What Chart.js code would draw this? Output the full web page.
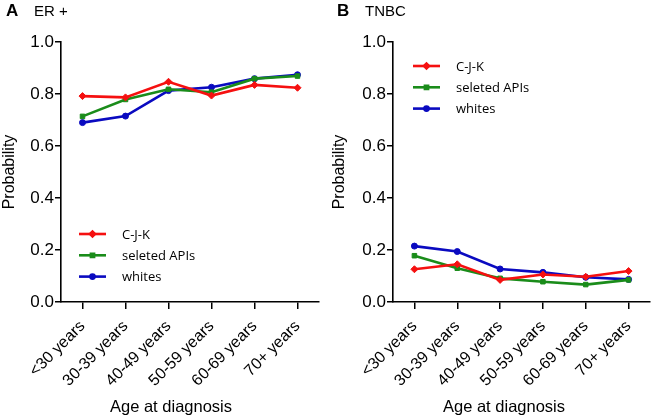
<!DOCTYPE html>
<html><head><meta charset="utf-8">
<script src="https://cdn.jsdelivr.net/npm/chart.js@4/dist/chart.umd.min.js"></script>
<style>
html,body{margin:0;padding:0;background:#fff;width:655px;height:419px;overflow:hidden;font-family:"Liberation Sans",Arial,sans-serif;}
.panel{position:absolute;top:0;height:419px;}
.lbl{position:absolute;color:#000;white-space:nowrap;}
</style></head>
<body>
<div class="panel" style="left:0;width:330px"><canvas id="cA" width="330" height="419"></canvas></div>
<div class="panel" style="left:330px;width:325px"><canvas id="cB" width="325" height="419"></canvas></div>
<div class="lbl" style="left:6px;top:1px;font-size:17px;font-weight:bold">A</div>
<div class="lbl" style="left:34px;top:2px;font-size:15px">ER +</div>
<div class="lbl" style="left:337px;top:1px;font-size:17px;font-weight:bold">B</div>
<div class="lbl" style="left:365px;top:2px;font-size:15px">TNBC</div>
<div class="lbl" style="left:110px;top:397px;font-size:16.5px">Age at diagnosis</div>
<div class="lbl" style="left:443px;top:397px;font-size:16.5px">Age at diagnosis</div>
<script>
const categories = ['<30 years','30-39 years','40-49 years','50-59 years','60-69 years','70+ years'];
const seriesNames = ['C-J-K','seleted APIs','whites'];
const erCJK   = [0.792,0.787,0.847,0.794,0.835,0.824];
const erAPI   = [0.714,0.779,0.818,0.807,0.859,0.869];
const erWhite = [0.690,0.715,0.813,0.826,0.859,0.874];
const tnCJK   = [0.126,0.145,0.085,0.106,0.097,0.119];
const tnAPI   = [0.178,0.130,0.091,0.078,0.067,0.085];
const tnWhite = [0.215,0.194,0.127,0.114,0.095,0.087];
const yTicks  = [0,0.2,0.4,0.6,0.8,1.0];

const colors = ['#f51010','#1a8c1a','#0a0ac0'];
const styles = ['rectRot','rect','circle'];
const radii  = [3.5,3.2,3];

function makeDatasets(arrs){
  return arrs.map((d,i)=>({
    label: seriesNames[i], data: d,
    borderColor: colors[i], backgroundColor: colors[i],
    borderWidth: 2.6, pointStyle: styles[i], pointRadius: radii[i],
    pointBorderWidth: 1, tension: 0
  }));
}

const legendPlugin = {
  id:'customLegend',
  afterDraw(chart, args, opts){
    const ctx = chart.ctx, ca = chart.chartArea;
    ctx.save();
    chart.data.datasets.forEach((ds,i)=>{
      const y = ca.top + opts.y + i*opts.gap;
      const x0 = ca.left + opts.x;
      ctx.strokeStyle = ds.borderColor; ctx.lineWidth = 2.6;
      ctx.beginPath(); ctx.moveTo(x0,y); ctx.lineTo(x0+27,y); ctx.stroke();
      ctx.fillStyle = ds.backgroundColor;
      Chart.helpers.drawPoint(ctx,{pointStyle:ds.pointStyle,radius:ds.pointRadius*0.7,rotation:0,borderWidth:1},x0+13.5,y);
      ctx.fillStyle = '#000';
      ctx.font = '13px "Open Sans"';
      ctx.textBaseline = 'middle';
      ctx.fillText(ds.label, x0+43, y+1);
    });
    ctx.restore();
  }
};

function makeChart(id, arrs, padRight, yWidth, legX, legY){
  return new Chart(document.getElementById(id), {
    type:'line',
    data:{labels:categories, datasets:makeDatasets(arrs)},
    plugins:[legendPlugin],
    options:{
      responsive:false, animation:false, devicePixelRatio:1,
      layout:{padding:{top:42,right:padRight,bottom:0,left:0}},
      plugins:{legend:{display:false},tooltip:{enabled:false},
        customLegend:{x:legX,y:legY,gap:21.3}},
      scales:{
        x:{
          offset:true,
          grid:{offset:false,drawOnChartArea:false,drawTicks:true,tickLength:7,color:'#000',lineWidth:1.5},
          border:{display:true,color:'#000',width:1.6},
          ticks:{color:'#000',font:{family:'"Liberation Sans"',size:16},maxRotation:45,minRotation:45,autoSkip:false,padding:8},
          afterFit(s){ s.height = 117; }
        },
        y:{
          min:0,max:1,
          afterBuildTicks(s){ s.ticks = yTicks.map(v=>({value:v})); },
          grid:{drawOnChartArea:false,drawTicks:true,tickLength:6,color:'#000',lineWidth:1.5},
          border:{display:true,color:'#000',width:1.6},
          ticks:{color:'#000',font:{family:'"Liberation Sans"',size:17},padding:1,callback:v=>Number(v).toFixed(1)},
          title:{display:true,text:'Probability',color:'#000',font:{family:'"Liberation Sans"',size:16},padding:0},
          afterFit(s){ s.width = yWidth; }
        }
      }
    }
  });
}

makeChart('cA',[erCJK,erAPI,erWhite],11,61,18,192);
makeChart('cB',[tnCJK,tnAPI,tnWhite],4,63,20,24);
</script>
</body></html>
